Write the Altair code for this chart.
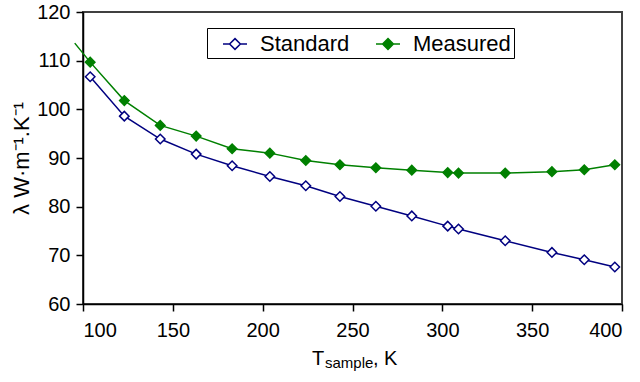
import altair as alt
import pandas as pd

# Data
temps = [104, 123, 143, 163, 183, 204, 224, 243, 263, 283, 303, 309, 335, 361, 379, 396]
standard = [106.7, 98.6, 93.9, 90.8, 88.4, 86.2, 84.3, 82.1, 80.1, 78.1, 76.0, 75.4, 73.0, 70.6, 69.1, 67.6]
measured = [109.7, 101.8, 96.7, 94.5, 91.9, 91.0, 89.5, 88.6, 88.0, 87.5, 87.0, 86.9, 86.9, 87.2, 87.6, 88.6]
# the measured curve continues a little past the left edge of the axes
measured_lead_t = [95.4]
measured_lead_v = [113.6]

series = ["Standard", "Measured"]
x_ticks = [100, 150, 200, 250, 300, 350, 400]
y_ticks = [60, 70, 80, 90, 100, 110, 120]

pts = pd.DataFrame(
    {"T": temps * 2, "v": standard + measured,
     "series": ["Standard"] * len(temps) + ["Measured"] * len(temps)}
)
lines = pd.concat(
    [pts[pts.series == "Standard"],
     pd.DataFrame({"T": measured_lead_t, "v": measured_lead_v, "series": ["Measured"]}),
     pts[pts.series == "Measured"]],
    ignore_index=True,
)
lines["order"] = range(len(lines))

FONT = "Liberation Sans"
col_scale = alt.Scale(domain=series, range=["#000080", "#008000"])
fill_scale = alt.Scale(domain=series, range=["white", "#008000"])

xenc = alt.X("T:Q", scale=alt.Scale(domain=[100, 400], nice=False),
             axis=alt.Axis(values=x_ticks, title=None, format="d"))
yenc = alt.Y("v:Q", scale=alt.Scale(domain=[60, 120], nice=False, zero=False),
             axis=alt.Axis(values=y_ticks, title="λ W·m⁻¹.K⁻¹", format="d"))

leg_path = "M-1,0L-0.45,0M0.45,0L1,0M0,-0.45L0.45,0L0,0.45L-0.45,0Z"
legend = alt.Legend(
    title=None, orient="none", legendX=124, legendY=16, direction="horizontal",
    symbolType=leg_path, symbolSize=576, symbolStrokeWidth=1.5, symbolOffset=12,
    labelFont=FONT, labelFontSize=22, labelColor="black", labelOffset=12,
    columnPadding=13, padding=3, strokeColor="black", fillColor="white",
)

line_layer = alt.Chart(lines).mark_line(strokeWidth=1.5, interpolate="linear", clip=False).encode(
    x=xenc, y=yenc, order="order:Q",
    color=alt.Color("series:N", scale=col_scale, legend=legend),
)
point_layer = alt.Chart(pts).mark_point(shape="diamond", size=90, strokeWidth=1.5, filled=False, opacity=1).encode(
    x=xenc, y=yenc,
    color=alt.Color("series:N", scale=col_scale, legend=legend),
    fill=alt.Fill("series:N", scale=fill_scale, legend=legend),
)

t_main = alt.Chart(pd.DataFrame({"s": ["T"]})).mark_text(
    font=FONT, fontSize=20, align="left", baseline="alphabetic", color="black"
).encode(text="s:N", x=alt.value(229), y=alt.value(353))
t_sub = alt.Chart(pd.DataFrame({"s": ["sample"]})).mark_text(
    font=FONT, fontSize=15, align="left", baseline="alphabetic", color="black"
).encode(text="s:N", x=alt.value(242), y=alt.value(356))
t_end = alt.Chart(pd.DataFrame({"s": [", K"]})).mark_text(
    font=FONT, fontSize=20, align="left", baseline="alphabetic", color="black"
).encode(text="s:N", x=alt.value(290), y=alt.value(353))

chart = (
    alt.layer(line_layer, point_layer, t_main, t_sub, t_end)
    .properties(width=539, height=292,
                autosize=alt.AutoSizeParams(type="none"),
                padding={"left": 83, "top": 12, "right": 18, "bottom": 78})
    .configure_view(stroke="#404040", strokeWidth=2)
    .configure_axis(
        labelFont=FONT, labelFontSize=20, labelColor="black",
        titleFont=FONT, titleFontSize=22, titleColor="black", titleFontWeight="normal",
        domainColor="black", domainWidth=1.5, tickColor="black", tickWidth=1.5,
        tickSize=7, grid=False,
    )
    .configure_axisX(labelPadding=9)
    .configure_axisY(labelPadding=6, titlePadding=3)
)

chart.save("out.html", embed_options={"renderer": "svg", "actions": False})
